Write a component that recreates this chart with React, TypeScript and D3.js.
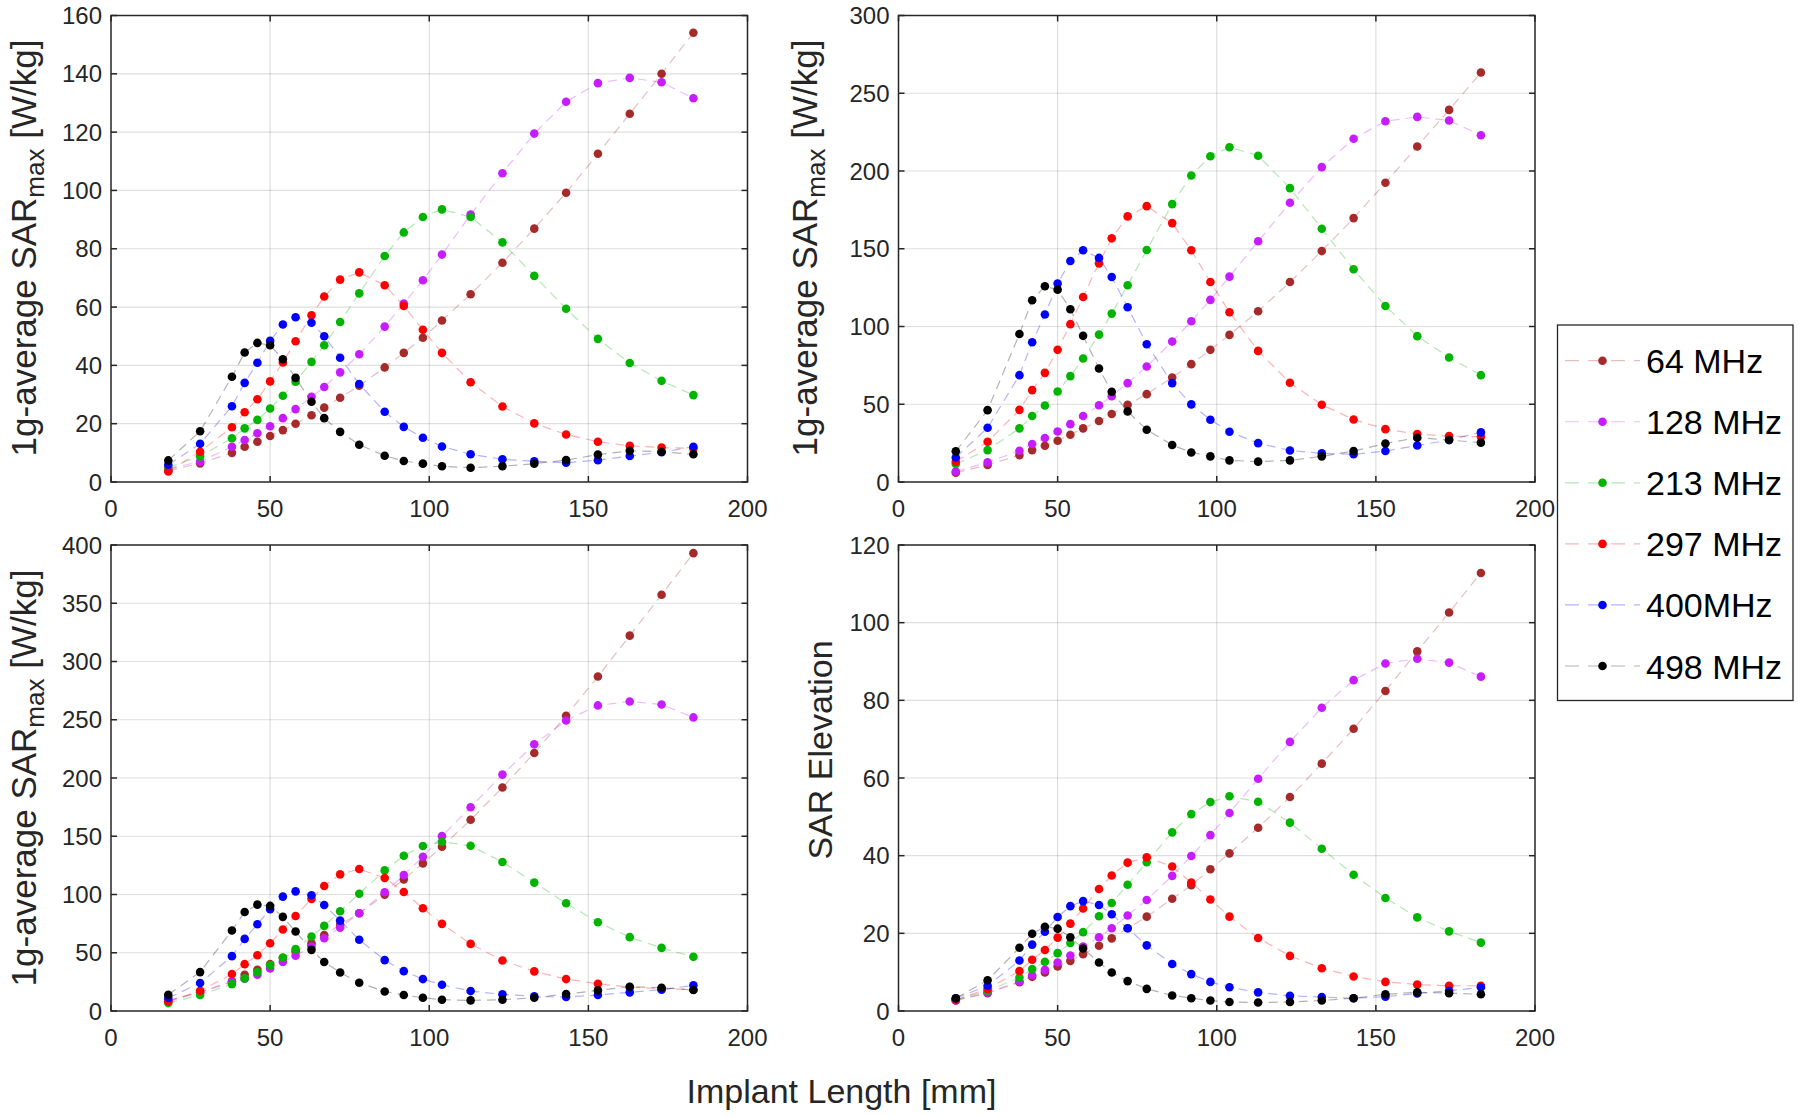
import React from 'react';
import * as d3 from 'd3';

// ---------- data ----------
const lengths = [18, 28, 38, 42, 46, 50, 54, 58, 63, 67, 72, 78, 86, 92, 98, 104, 113, 123, 133, 143, 153, 163, 173, 183];
const freqLabels = ['64 MHz', '128 MHz', '213 MHz', '297 MHz', '400MHz', '498 MHz'];
const seriesColors = ['#A52A2A', '#C71CFF', '#00B400', '#FF0000', '#0000FF', '#000000'];
const xTicks = [0, 50, 100, 150, 200];

// Panel A: 1g-average SARmax [W/kg]
const a64 = [3.9, 6.4, 10.0, 12.1, 13.8, 15.8, 17.8, 20.0, 22.9, 25.5, 28.9, 33.0, 39.3, 44.3, 49.5, 55.4, 64.4, 75.2, 86.9, 99.2, 112.6, 126.3, 140.0, 154.1];
const a128 = [4.5, 7.0, 12.1, 14.4, 16.7, 19.1, 21.9, 25.0, 29.2, 32.6, 37.6, 43.8, 53.3, 61.2, 69.2, 78.0, 91.7, 105.9, 119.5, 130.4, 136.8, 138.6, 137.1, 131.6];
const a213 = [5.0, 8.8, 15.0, 18.4, 21.3, 25.2, 29.6, 34.4, 41.2, 46.9, 54.9, 64.7, 77.5, 85.6, 90.9, 93.5, 90.9, 82.2, 70.7, 59.4, 49.1, 40.8, 34.7, 29.8];
const a297 = [3.6, 10.4, 18.8, 23.9, 28.4, 34.5, 41.0, 48.3, 57.2, 63.6, 69.4, 71.9, 67.5, 60.4, 52.2, 44.3, 34.2, 25.9, 20.1, 16.3, 13.8, 12.4, 11.8, 11.5];
const a400 = [5.9, 13.1, 26.0, 34.0, 40.9, 48.4, 54.0, 56.5, 54.6, 50.0, 42.6, 33.6, 24.1, 18.9, 15.2, 12.2, 9.5, 7.8, 7.1, 6.6, 7.5, 8.9, 10.2, 12.1];
const a498 = [7.4, 17.4, 36.1, 44.4, 47.7, 46.9, 42.1, 35.7, 27.5, 21.9, 17.2, 12.8, 9.0, 7.2, 6.3, 5.4, 4.9, 5.4, 6.3, 7.5, 9.4, 10.7, 10.4, 9.5];
const aTicks = [0, 20, 40, 60, 80, 100, 120, 140, 160];

// Panel B
const b64 = [6.0, 10.9, 17.3, 20.5, 23.3, 26.5, 30.4, 34.5, 39.2, 43.7, 49.7, 56.5, 67.2, 75.8, 85.0, 94.6, 109.8, 128.6, 148.5, 169.7, 192.4, 215.8, 239.3, 263.3];
const b128 = [6.8, 12.6, 20.1, 24.4, 28.3, 32.5, 37.2, 42.4, 49.4, 55.2, 63.6, 74.3, 90.3, 103.4, 117.1, 132.1, 154.8, 179.6, 202.5, 220.7, 232.0, 234.8, 232.5, 223.0];
const b213 = [11.6, 20.5, 34.5, 42.4, 49.2, 58.2, 68.1, 79.4, 94.8, 108.3, 126.5, 149.2, 178.7, 197.1, 209.5, 215.3, 209.8, 189.0, 162.9, 136.8, 113.2, 93.8, 80.1, 68.7];
const b297 = [13.1, 25.9, 46.4, 59.1, 70.2, 85.0, 101.5, 119.0, 140.6, 156.7, 170.8, 177.4, 166.5, 149.0, 128.6, 109.2, 84.3, 63.8, 49.7, 40.2, 34.0, 30.8, 29.5, 29.1];
const b400 = [15.8, 34.9, 68.7, 89.9, 107.7, 127.6, 142.1, 149.0, 144.1, 131.8, 112.4, 88.6, 63.6, 49.9, 40.0, 32.3, 25.0, 20.3, 18.4, 17.8, 19.9, 23.5, 27.0, 31.9];
const b498 = [19.7, 46.2, 95.2, 116.9, 125.9, 123.7, 111.1, 94.0, 73.0, 58.0, 45.4, 33.6, 23.8, 19.0, 16.5, 13.9, 13.1, 13.9, 16.5, 19.9, 24.8, 28.5, 27.0, 25.3];
const bTicks = [0, 50, 100, 150, 200, 250, 300];

// Panel C
const c64 = [8.3, 16.3, 25.4, 31.1, 35.4, 40.2, 45.4, 51.1, 58.2, 65.1, 73.9, 83.9, 99.9, 113.0, 126.7, 141.0, 164.1, 191.8, 221.5, 253.4, 287.1, 322.2, 357.3, 393.0];
const c128 = [9.1, 16.0, 24.8, 27.7, 31.1, 36.5, 42.2, 47.4, 55.4, 62.5, 71.6, 83.9, 101.9, 116.7, 132.4, 150.1, 174.9, 202.9, 228.9, 249.4, 262.3, 265.7, 263.1, 252.0];
const c213 = [6.8, 13.7, 23.1, 28.0, 33.4, 39.4, 45.9, 53.1, 63.9, 73.1, 85.6, 100.7, 120.7, 133.3, 141.6, 145.3, 141.8, 127.9, 110.2, 92.5, 76.2, 63.4, 54.2, 46.5];
const c297 = [8.3, 17.4, 31.7, 40.2, 47.9, 58.2, 69.9, 81.6, 96.2, 107.3, 117.3, 121.9, 114.2, 102.2, 88.2, 74.8, 57.6, 43.4, 34.0, 27.4, 23.4, 20.5, 19.1, 18.3];
const c400 = [11.1, 24.0, 47.1, 61.9, 74.5, 87.3, 98.2, 102.7, 99.3, 91.0, 77.6, 61.1, 43.7, 34.2, 27.4, 22.5, 17.1, 14.3, 12.6, 12.0, 13.7, 16.0, 18.3, 22.0];
const c498 = [14.0, 33.4, 69.1, 85.0, 91.3, 90.2, 80.8, 68.2, 52.5, 42.0, 33.1, 24.3, 16.8, 13.7, 11.4, 9.7, 9.1, 9.7, 11.4, 14.6, 17.7, 20.8, 20.0, 18.0];
const cTicks = [0, 50, 100, 150, 200, 250, 300, 350, 400];

// Panel D: SAR Elevation
const d64 = [2.7, 4.6, 7.4, 8.8, 9.9, 11.5, 12.9, 14.6, 16.8, 18.7, 21.3, 24.3, 28.9, 32.4, 36.5, 40.6, 47.2, 55.1, 63.7, 72.7, 82.4, 92.6, 102.6, 112.8];
const d128 = [2.7, 4.8, 7.6, 9.2, 10.6, 12.5, 14.3, 16.6, 19.0, 21.3, 24.6, 28.6, 34.8, 39.9, 45.3, 51.0, 59.8, 69.3, 78.1, 85.2, 89.5, 90.7, 89.7, 86.1];
const d213 = [2.9, 5.2, 8.6, 10.8, 12.7, 14.9, 17.5, 20.3, 24.4, 27.8, 32.5, 38.3, 46.0, 50.7, 53.8, 55.3, 53.9, 48.5, 41.8, 35.1, 29.1, 24.1, 20.5, 17.6];
const d297 = [2.9, 5.7, 10.3, 13.2, 15.7, 18.9, 22.5, 26.4, 31.4, 34.9, 38.2, 39.6, 37.2, 33.1, 28.7, 24.3, 18.8, 14.2, 11.0, 8.9, 7.5, 6.8, 6.5, 6.5];
const d400 = [3.3, 6.5, 13.0, 17.1, 20.4, 24.2, 27.0, 28.3, 27.3, 24.9, 21.3, 16.9, 12.1, 9.5, 7.5, 6.1, 4.8, 3.9, 3.6, 3.3, 3.7, 4.5, 5.2, 6.1];
const d498 = [3.3, 7.9, 16.3, 19.9, 21.7, 21.2, 19.0, 16.1, 12.5, 9.9, 7.7, 5.7, 4.0, 3.3, 2.7, 2.3, 2.2, 2.3, 2.7, 3.3, 4.3, 4.8, 4.6, 4.3];
const dTicks = [0, 20, 40, 60, 80, 100, 120];

// ---------- layout ----------
const FONT = '"Liberation Sans", Arial, Helvetica, sans-serif';
const AXIS_COLOR = '#262626';
const MARKER_R = 4.3;

const panels = [
  { series: [a64, a128, a213, a297, a400, a498], ticks: aTicks, x0: 111, x1: 747.5, y0: 15.5, y1: 482, label: 'sar', lx: 36, ly: 248 },
  { series: [b64, b128, b213, b297, b400, b498], ticks: bTicks, x0: 898.5, x1: 1535, y0: 15.5, y1: 482, label: 'sar', lx: 817, ly: 248 },
  { series: [c64, c128, c213, c297, c400, c498], ticks: cTicks, x0: 111, x1: 747.5, y0: 545, y1: 1011, label: 'sar', lx: 36, ly: 778 },
  { series: [d64, d128, d213, d297, d400, d498], ticks: dTicks, x0: 898.5, x1: 1535, y0: 545, y1: 1011, label: 'elev', lx: 832, ly: 750 },
];

function Panel({ p }: { p: any }) {
  const x = d3.scaleLinear().domain([0, 200]).range([p.x0, p.x1]);
  const yMax = p.ticks[p.ticks.length - 1];
  const y = d3.scaleLinear().domain([0, yMax]).range([p.y1, p.y0]);
  const line = d3
    .line<number>()
    .x((_, i) => x(lengths[i]))
    .y((v) => y(v));
  const tickLen = 6;
  return (
    <g>
      {xTicks.slice(1, -1).map((t) => (
        <line key={'gx' + t} x1={x(t)} x2={x(t)} y1={p.y0} y2={p.y1} stroke={AXIS_COLOR} strokeOpacity={0.15} strokeWidth={1.2} />
      ))}
      {p.ticks.slice(1, -1).map((t: number) => (
        <line key={'gy' + t} x1={p.x0} x2={p.x1} y1={y(t)} y2={y(t)} stroke={AXIS_COLOR} strokeOpacity={0.15} strokeWidth={1.2} />
      ))}
      {p.series.map((s: number[], si: number) => (
        <g key={'s' + si}>
          <path d={line(s) || ''} fill="none" stroke={seriesColors[si]} strokeOpacity={0.3} strokeWidth={1.2} strokeDasharray="9,6" />
          {s.map((v, i) => (
            <circle key={i} cx={x(lengths[i])} cy={y(v)} r={MARKER_R} fill={seriesColors[si]} />
          ))}
        </g>
      ))}
      <rect x={p.x0} y={p.y0} width={p.x1 - p.x0} height={p.y1 - p.y0} fill="none" stroke={AXIS_COLOR} strokeWidth={1.5} />
      {xTicks.map((t) => (
        <g key={'tx' + t}>
          <line x1={x(t)} x2={x(t)} y1={p.y1} y2={p.y1 - tickLen} stroke={AXIS_COLOR} strokeWidth={1.5} />
          <line x1={x(t)} x2={x(t)} y1={p.y0} y2={p.y0 + tickLen} stroke={AXIS_COLOR} strokeWidth={1.5} />
          <text x={x(t)} y={p.y1 + 35} textAnchor="middle" fontSize={24} fill={AXIS_COLOR} fontFamily={FONT}>
            {t}
          </text>
        </g>
      ))}
      {p.ticks.map((t: number) => (
        <g key={'ty' + t}>
          <line x1={p.x0} x2={p.x0 + tickLen} y1={y(t)} y2={y(t)} stroke={AXIS_COLOR} strokeWidth={1.5} />
          <line x1={p.x1} x2={p.x1 - tickLen} y1={y(t)} y2={y(t)} stroke={AXIS_COLOR} strokeWidth={1.5} />
          <text x={p.x0 - 9} y={y(t) + 8.6} textAnchor="end" fontSize={24} fill={AXIS_COLOR} fontFamily={FONT}>
            {t}
          </text>
        </g>
      ))}
      {p.label === 'sar' ? (
        <text transform={`translate(${p.lx},${p.ly}) rotate(-90)`} textAnchor="middle" fontSize={35} fill={AXIS_COLOR} fontFamily={FONT}>
          1g-average SAR
          <tspan fontSize={26} dy={8}>max</tspan>
          <tspan dy={-8}> [W/kg]</tspan>
        </text>
      ) : (
        <text transform={`translate(${p.lx},${p.ly}) rotate(-90)`} textAnchor="middle" fontSize={34} fill={AXIS_COLOR} fontFamily={FONT}>
          SAR Elevation
        </text>
      )}
    </g>
  );
}

function Legend() {
  const bx0 = 1557.5, bx1 = 1793, by0 = 325, by1 = 700.5;
  const rowY = d3.scaleLinear().domain([0, 5]).range([360.7, 666]);
  return (
    <g>
      <rect x={bx0} y={by0} width={bx1 - bx0} height={by1 - by0} fill="#fff" stroke={AXIS_COLOR} strokeWidth={1.3} />
      {freqLabels.map((lab, i) => (
        <g key={lab}>
          <line x1={1565} x2={1640} y1={rowY(i)} y2={rowY(i)} stroke={seriesColors[i]} strokeOpacity={0.3} strokeWidth={1.2} strokeDasharray="14,9" />
          <circle cx={1602.5} cy={rowY(i)} r={MARKER_R} fill={seriesColors[i]} />
          <text x={1646} y={rowY(i) + 12.5} fontSize={34} fill="#000" fontFamily={FONT}>
            {lab}
          </text>
        </g>
      ))}
    </g>
  );
}

export default function App() {
  return (
    <svg
      width={1799}
      height={1118}
      viewBox="0 0 1799 1118"
      style={{ position: 'absolute', left: 0, top: 0, background: '#fff' }}
    >
      <rect x={0} y={0} width={1799} height={1118} fill="#fff" />
      {panels.map((p, i) => (
        <Panel key={i} p={p} />
      ))}
      <Legend />
      <text x={841.5} y={1103} textAnchor="middle" fontSize={34} fill={AXIS_COLOR} fontFamily={FONT}>
        Implant Length [mm]
      </text>
    </svg>
  );
}
